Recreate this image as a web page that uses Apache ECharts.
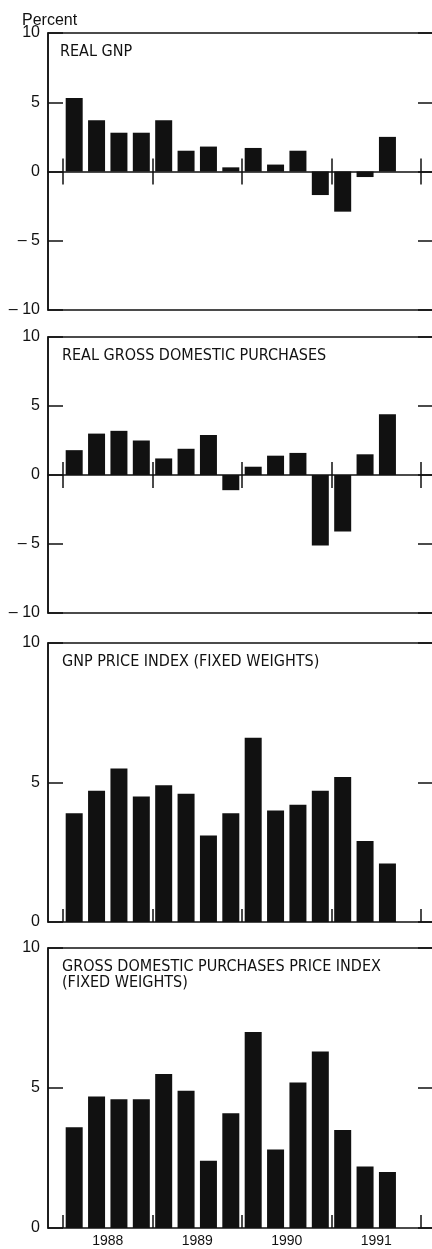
<!DOCTYPE html>
<html>
<head>
<meta charset="utf-8">
<script src="https://cdn.jsdelivr.net/npm/echarts@6/dist/echarts.min.js"></script>
<style>
  html, body { margin: 0; padding: 0; background: #fff; overflow: hidden; }
  #chart { width: 440px; height: 1249px; }
</style>
</head>
<body>
<div id="chart"></div>
<script>
// quarterly percent changes, 1988 Q1 .. 1991 Q4 (last quarter not reported)
const quarters = [
  "1988Q1", "1988Q2", "1988Q3", "1988Q4",
  "1989Q1", "1989Q2", "1989Q3", "1989Q4",
  "1990Q1", "1990Q2", "1990Q3", "1990Q4",
  "1991Q1", "1991Q2", "1991Q3", "1991Q4",
];
const years = ["1988", "1989", "1990", "1991"];

const realGnp = [5.3, 3.7, 2.8, 2.8, 3.7, 1.5, 1.8, 0.3, 1.7, 0.5, 1.5, -1.7, -2.9, -0.4, 2.5, null];
const realGdPurchases = [1.8, 3.0, 3.2, 2.5, 1.2, 1.9, 2.9, -1.1, 0.6, 1.4, 1.6, -5.1, -4.1, 1.5, 4.4, null];
const gnpPriceIndex = [3.9, 4.7, 5.5, 4.5, 4.9, 4.6, 3.1, 3.9, 6.6, 4.0, 4.2, 4.7, 5.2, 2.9, 2.1, null];
const gdPurchasesPriceIndex = [3.6, 4.7, 4.6, 4.6, 5.5, 4.9, 2.4, 4.1, 7.0, 2.8, 5.2, 6.3, 3.5, 2.2, 2.0, null];

const panelTitles = [
  "REAL GNP",
  "REAL GROSS DOMESTIC PURCHASES",
  "GNP PRICE INDEX (FIXED WEIGHTS)",
  "GROSS DOMESTIC PURCHASES PRICE INDEX\n(FIXED WEIGHTS)",
];
const panelData = [realGnp, realGdPurchases, gnpPriceIndex, gdPurchasesPriceIndex];
const panelMin = [-10, -10, 0, 0];

// layout
const panelTop = [33, 337, 643, 948];
const panelHeight = [277, 276, 279, 280];
const frameLeft = 48;
const frameRight = 7;   // chart is 440 wide, frame runs off the page edge
const innerLeft = 63;
const innerRight = 19;

const ink = "#111";
const labelFont = "'Liberation Sans', Arial, Helvetica, sans-serif";
const titleFont = "'Liberation Sans Narrow', 'Arial Narrow', 'DejaVu Sans Condensed', sans-serif";

const grid = [];
const xAxis = [];
const yAxis = [];
const series = [];
const title = [{
  text: "Percent",
  left: 22,
  top: 13,
  padding: 0,
  textStyle: { fontFamily: labelFont, fontSize: 16, fontWeight: "normal", color: ink },
}];

panelTitles.forEach((name, i) => {
  const min = panelMin[i];
  const g = 2 * i;
  const xi = 4 * i;
  const yi = 3 * i;

  // frame grid
  grid.push({
    left: frameLeft, right: frameRight, top: panelTop[i], height: panelHeight[i],
    show: true, borderColor: ink, borderWidth: 1.5, backgroundColor: "transparent",
  });
  // bar grid
  grid.push({ left: innerLeft, right: innerRight, top: panelTop[i], height: panelHeight[i] });

  // frame axes
  xAxis.push({
    gridIndex: g, type: "value", min: 0, max: 1,
    axisLine: { show: min < 0, onZero: true, lineStyle: { color: ink, width: 1.5 } },
    axisTick: { show: false }, axisLabel: { show: false }, splitLine: { show: false },
  });
  const yBase = {
    gridIndex: g, type: "value", min: min, max: 10, interval: 5,
    axisLine: { show: true, lineStyle: { color: ink, width: 1.5 } },
    axisTick: { show: true, inside: true, length: 15, lineStyle: { color: ink, width: 1.5 } },
    splitLine: { show: false },
  };
  yAxis.push(Object.assign({}, yBase, {
    position: "left",
    axisLabel: {
      show: true, margin: 8, color: ink, fontFamily: labelFont, fontSize: 16,
      formatter: (v) => (v < 0 ? "\u2013 " + Math.abs(v) : String(v)),
    },
  }));
  yAxis.push(Object.assign({}, yBase, { position: "right", axisLabel: { show: false } }));

  // bar axes
  yAxis.push({ gridIndex: g + 1, type: "value", min: min, max: 10, show: false });
  xAxis.push({
    gridIndex: g + 1, type: "category", data: quarters, position: "bottom",
    axisLine: { show: false, onZero: true, onZeroAxisIndex: yi + 2 },
    axisTick: { show: false }, axisLabel: { show: false },
  });
  // year dividers pointing up, with year labels on the last panel
  xAxis.push({
    gridIndex: g + 1, type: "category", data: years, position: "bottom",
    axisLine: { show: false, onZero: true, onZeroAxisIndex: yi + 2 },
    axisTick: { show: true, inside: true, length: 13, interval: 0, lineStyle: { color: ink, width: 1.5 } },
    axisLabel: { show: i === 3, margin: 6, color: ink, fontFamily: labelFont, fontSize: 14, interval: 0 },
  });
  // year dividers pointing down (panels crossing zero)
  xAxis.push({
    gridIndex: g + 1, type: "category", data: years, position: "bottom", show: min < 0,
    axisLine: { show: false, onZero: true, onZeroAxisIndex: yi + 2 },
    axisTick: { show: true, inside: false, length: 13, interval: 0, lineStyle: { color: ink, width: 1.5 } },
    axisLabel: { show: false },
  });

  series.push({
    name: name, type: "bar", xAxisIndex: xi + 1, yAxisIndex: yi + 2,
    data: panelData[i], barWidth: 17, itemStyle: { color: ink },
    silent: true, animation: false,
  });

  title.push({
    text: name,
    left: i === 0 ? 60 : 62,
    top: panelTop[i] + 11,
    padding: 0,
    textStyle: {
      fontFamily: titleFont, fontSize: 16, fontWeight: "normal", color: ink, lineHeight: 16,
    },
  });
});

const chart = echarts.init(document.getElementById("chart"), null, { renderer: "canvas" });
chart.setOption({
  animation: false,
  backgroundColor: "#fff",
  title: title,
  grid: grid,
  xAxis: xAxis,
  yAxis: yAxis,
  series: series,
});
</script>
</body>
</html>
